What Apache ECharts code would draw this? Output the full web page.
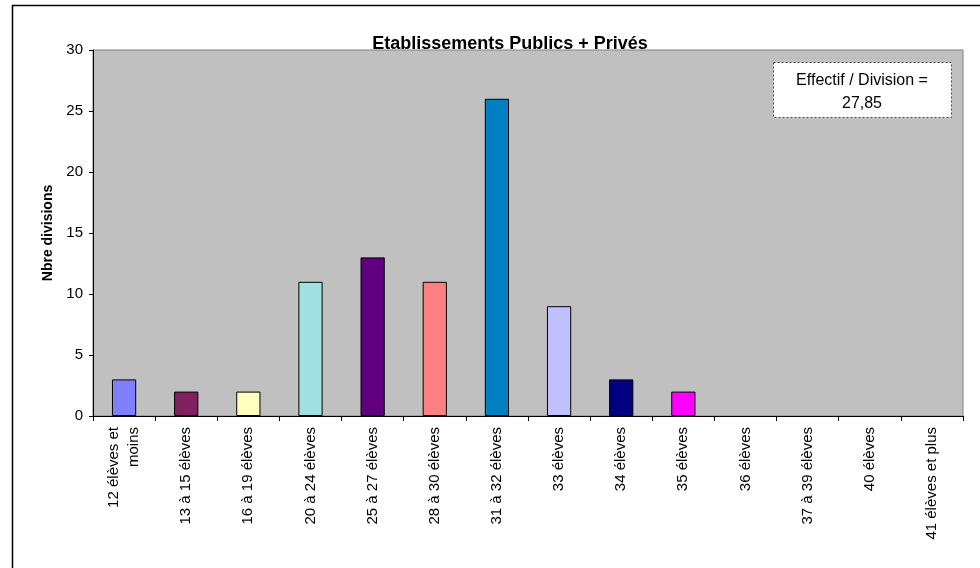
<!DOCTYPE html>
<html>
<head>
<meta charset="utf-8">
<script src="https://cdn.jsdelivr.net/npm/echarts@6/dist/echarts.min.js"></script>
<style>
html,body{margin:0;padding:0;background:#fff;}
#chart{width:980px;height:568px;}
</style>
</head>
<body>
<div id="chart"></div>
<script>
const categories = ["12 élèves et\nmoins","13 à 15 élèves","16 à 19 élèves","20 à 24 élèves","25 à 27 élèves","28 à 30 élèves","31 à 32 élèves","33 élèves","34 élèves","35 élèves","36 élèves","37 à 39 élèves","40 élèves","41 élèves et plus"];
const values = [3,2,2,11,13,11,26,9,3,2,0,0,0,0];
const barColors = ["#8080FF","#802060","#FFFFC0","#A0E0E0","#600080","#FF8080","#0080C0","#C0C0FF","#000080","#FF00FF","#8080FF","#802060","#FFFFC0","#A0E0E0"];
const chartTitle = "Etablissements Publics + Privés";
const yAxisName = "Nbre divisions";
const noteLines = ["Effectif / Division =","27,85"];

const chart = echarts.init(document.getElementById('chart'), null, {renderer:'canvas'});
const font = '"Liberation Sans", Arial, sans-serif';
chart.setOption({
  animation:false,
  textStyle:{fontFamily:font},
  title:{text:chartTitle,left:505,textAlign:'center',top:30,textStyle:{fontSize:18,fontWeight:'bold',color:'#000',fontFamily:font}},
  grid:{left:93,right:17,top:50,bottom:152,show:true,backgroundColor:'#C0C0C0',borderColor:'#808080',borderWidth:1},
  xAxis:{type:'category',data:categories,
    axisLine:{lineStyle:{color:'#000',width:1}},
    axisTick:{show:true,length:5,alignWithLabel:false,lineStyle:{color:'#000'}},
    axisLabel:{interval:0,rotate:90,fontSize:15,color:'#000',margin:11,lineHeight:20,fontFamily:font}},
  yAxis:{type:'value',min:0,max:30,interval:5,name:yAxisName,nameLocation:'middle',nameRotate:90,nameGap:37,
    nameTextStyle:{fontSize:14,fontWeight:'bold',color:'#000',fontFamily:font},
    axisLine:{show:true,lineStyle:{color:'#000',width:1}},
    axisTick:{show:true,length:4,lineStyle:{color:'#000'}},
    splitLine:{show:false},
    axisLabel:{fontSize:15,color:'#000',margin:10,fontFamily:font}},
  series:[{type:'bar',barWidth:'39%',
    data:values.map((v,i)=>({value:v,itemStyle:{color:barColors[i],borderWidth:v>0?1:0}})),
    itemStyle:{borderColor:'#000',borderWidth:1}}],
  graphic:[
    {type:'rect',shape:{x:12.5,y:5.5,width:1000,height:600},style:{fill:null,stroke:'#000',lineWidth:1.5},silent:true,z:100},
    {type:'rect',shape:{x:773.5,y:62.5,width:178,height:55},style:{fill:'#fff',stroke:'#444',lineWidth:1,lineDash:[2,2]},z:50},
    {type:'text',x:862,y:69,style:{text:noteLines.join('\n'),fill:'#000',font:'16px '+font,textAlign:'center',lineHeight:23},z:51}
  ]
});
</script>
</body>
</html>
